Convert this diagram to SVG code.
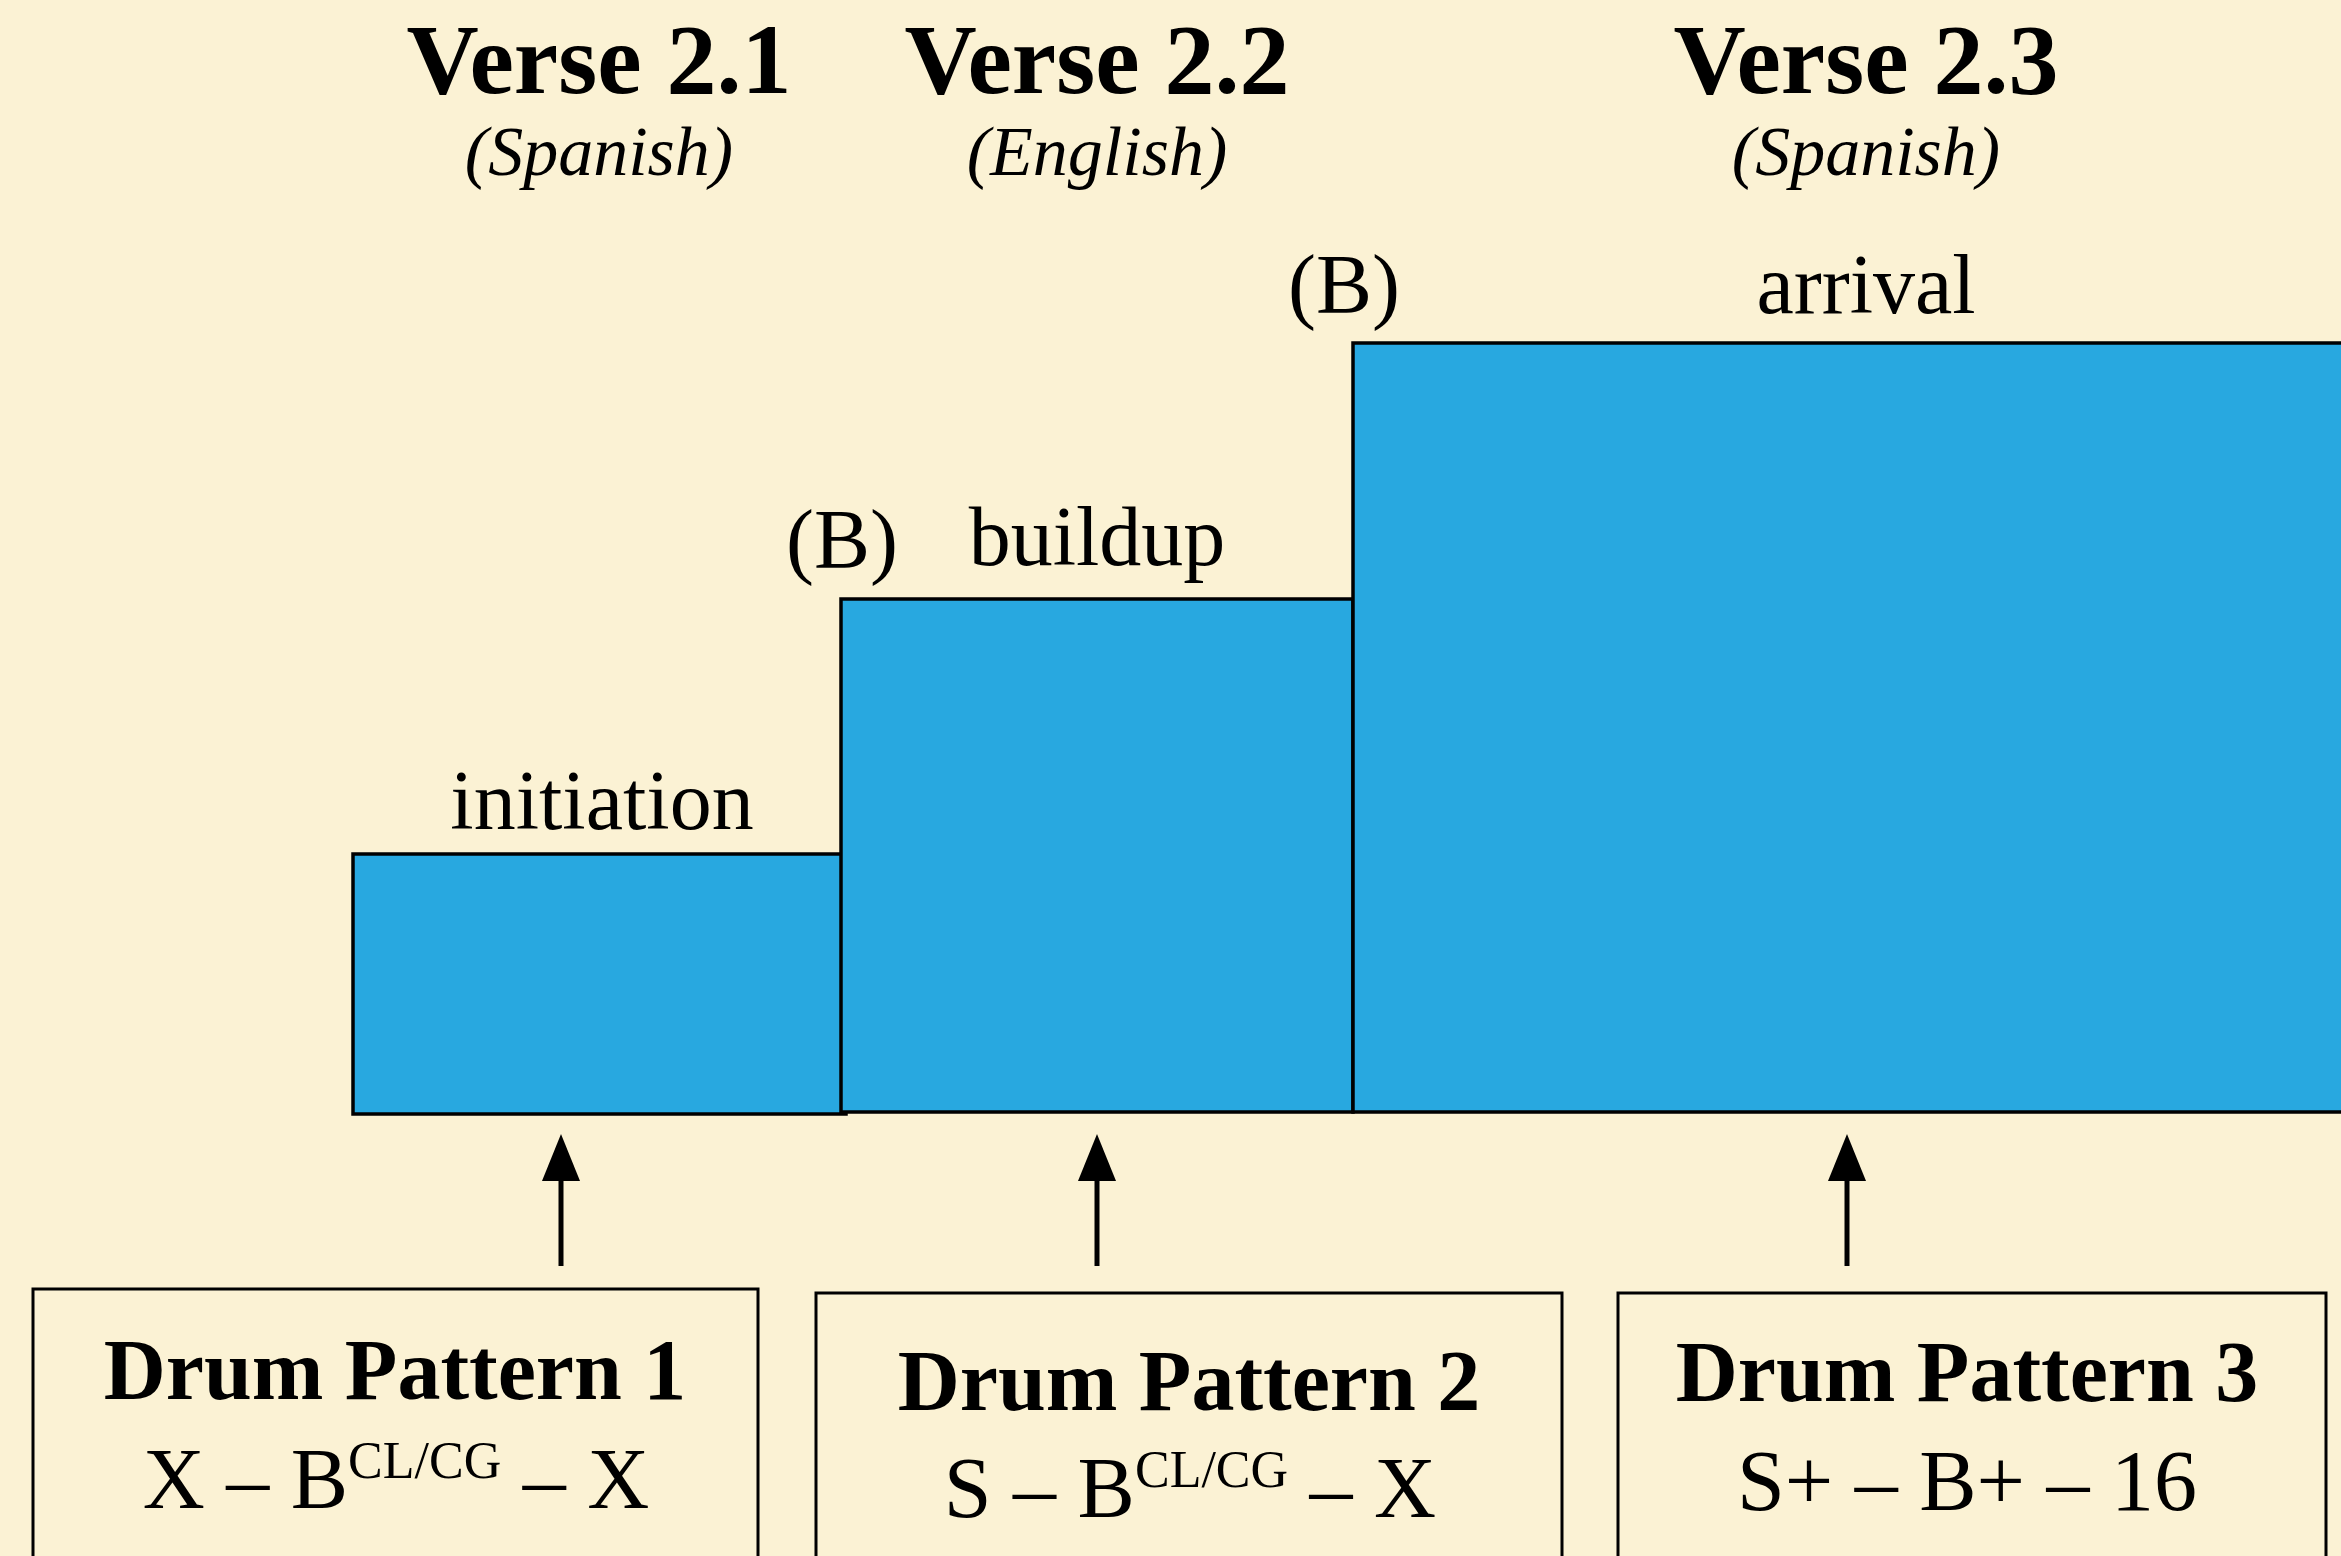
<svg xmlns="http://www.w3.org/2000/svg" width="2341" height="1556" viewBox="0 0 2341 1556">
<defs>
<style>
.title{font-family:"Liberation Serif","Times New Roman",serif;font-weight:bold;font-size:100px;fill:#000;text-anchor:middle}
.sub{font-family:"Liberation Serif","Times New Roman",serif;font-style:italic;font-size:70px;fill:#000;text-anchor:middle}
.lbl{font-family:"Liberation Serif","Times New Roman",serif;font-size:84px;fill:#000;text-anchor:middle}
.dp{font-family:"Liberation Serif","Times New Roman",serif;font-weight:bold;font-size:86px;fill:#000;text-anchor:middle}
.fx{font-family:"Liberation Serif","Times New Roman",serif;font-size:86px;fill:#000;text-anchor:middle}
.bar{fill:#28A8E0;stroke:#000;stroke-width:3.5}
.box{fill:none;stroke:#000;stroke-width:3}
.arr{stroke:#000;stroke-width:5;fill:none}
</style>
</defs>
<rect x="0" y="0" width="2341" height="1556" fill="#FBF2D4"/>

<g id="headers">
<text class="title" x="599" y="93">Verse 2.1</text>
<text class="sub" x="599" y="175">(Spanish)</text>
<text class="title" x="1097" y="93">Verse 2.2</text>
<text class="sub" x="1097" y="175">(English)</text>
<text class="title" x="1866" y="93">Verse 2.3</text>
<text class="sub" x="1866" y="175">(Spanish)</text>
</g>

<g id="bar-initiation">
<rect class="bar" x="353" y="854" width="493" height="260"/>
<text class="lbl" x="602" y="829">initiation</text>
</g>
<g id="bar-buildup">
<rect class="bar" x="841" y="599" width="512" height="513"/>
<text class="lbl" x="842" y="568">(B)</text>
<text class="lbl" x="1097" y="565">buildup</text>
</g>
<g id="bar-arrival">
<rect class="bar" x="1353" y="343" width="1000" height="769"/>
<text class="lbl" x="1344" y="313">(B)</text>
<text class="lbl" x="1866" y="313">arrival</text>
</g>

<g id="connectors">
<path d="M0,0 L38,0 L19,-47 Z" transform="translate(542,1181)" fill="#000"/>
<line class="arr" x1="561" y1="1266" x2="561" y2="1175"/>
<path d="M0,0 L38,0 L19,-47 Z" transform="translate(1078,1181)" fill="#000"/>
<line class="arr" x1="1097" y1="1266" x2="1097" y2="1175"/>
<path d="M0,0 L38,0 L19,-47 Z" transform="translate(1828,1181)" fill="#000"/>
<line class="arr" x1="1847" y1="1266" x2="1847" y2="1175"/>
</g>

<g id="pattern1">
<rect class="box" x="33" y="1289" width="725" height="300"/>
<text class="dp" x="395" y="1399">Drum Pattern 1</text>
<text class="fx" x="396" y="1508">X – B<tspan font-size="52" dy="-30">CL/CG</tspan><tspan dy="30"> – X</tspan></text>
</g>
<g id="pattern2">
<rect class="box" x="816" y="1293" width="746" height="300"/>
<text class="dp" x="1189" y="1410">Drum Pattern 2</text>
<text class="fx" x="1190" y="1517">S – B<tspan font-size="52" dy="-30">CL/CG</tspan><tspan dy="30"> – X</tspan></text>
</g>
<g id="pattern3">
<rect class="box" x="1618" y="1293" width="708" height="300"/>
<text class="dp" x="1967" y="1401">Drum Pattern 3</text>
<text class="fx" x="1967" y="1510">S+ – B+ – 16</text>
</g>
</svg>
